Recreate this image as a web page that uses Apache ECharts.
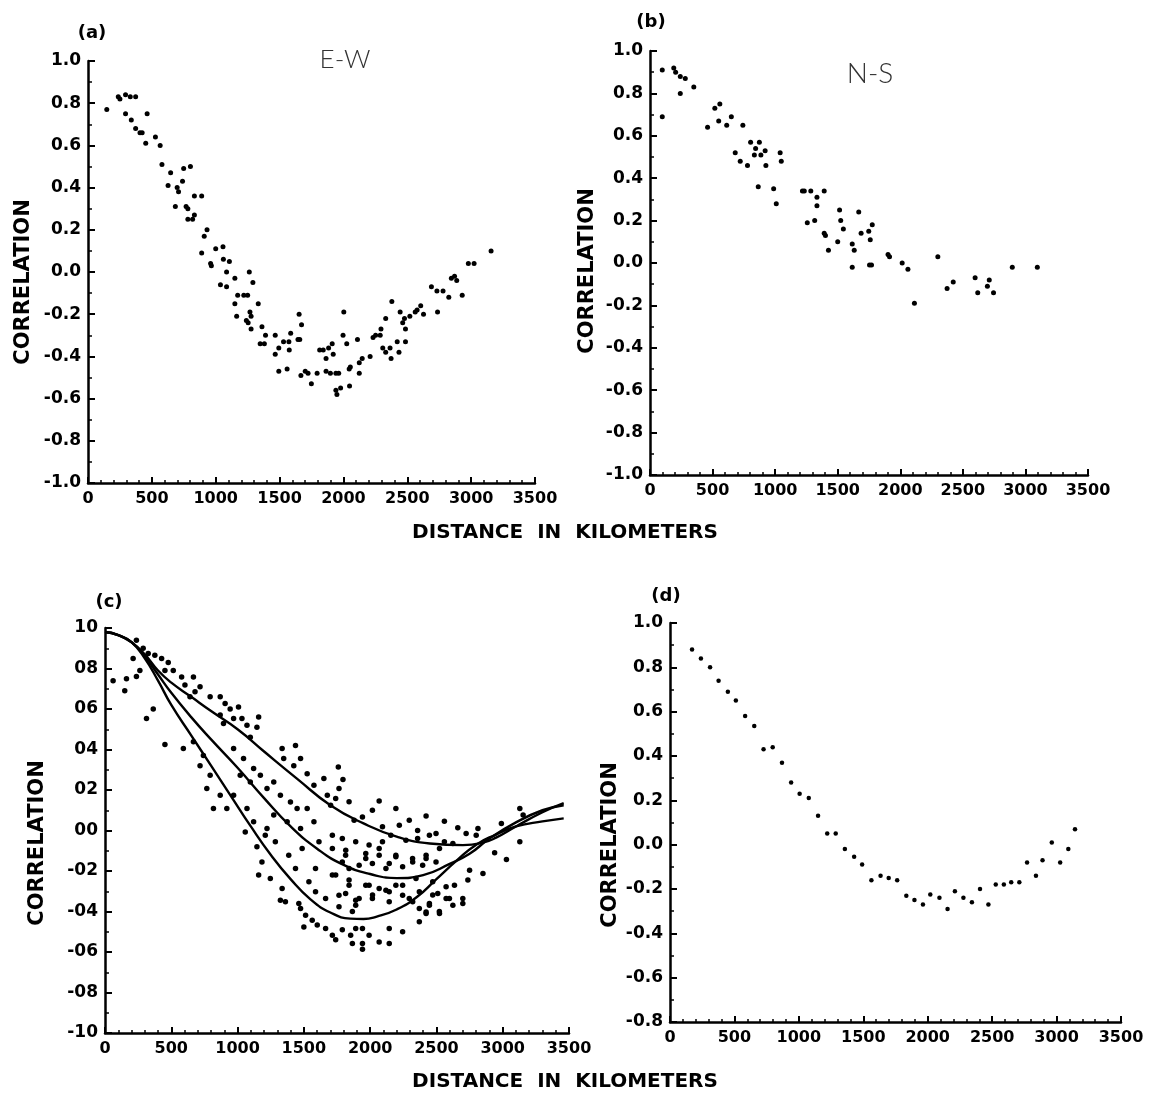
<!DOCTYPE html>
<html>
<head>
<meta charset="utf-8">
<script src="https://cdn.jsdelivr.net/npm/echarts@6/dist/echarts.min.js"></script>
<style>
html,body{margin:0;padding:0;background:#fff;}
#chart{width:1153px;height:1099px;}
</style>
</head>
<body>
<div id="chart"></div>
<script>
// ---------- tick labels ----------
const KM_TICKS = ['0','500','1000','1500','2000','2500','3000','3500'];
const R_TICKS = ['-1.0','-0.8','-0.6','-0.4','-0.2','0.0','0.2','0.4','0.6','0.8','1.0'];
const R_TICKS_C = ['-10','-08','-06','-04','-02','00','02','04','06','08','10'];
const R_TICKS_D = ['-0.8','-0.6','-0.4','-0.2','0.0','0.2','0.4','0.6','0.8','1.0'];

// ---------- panel (a) E-W ----------
const aKm = [147,237,250,294,331,373,294,339,373,407,424,463,452,528,565,579,627,647,698,709,684,740,749,768,782,802,782,819,833,833,890,910,932,890,960,966,1000,1057,1060,1107,1037,1085,1085,1150,1150,1164,1172,1220,1250,1263,1291,1268,1240,1254,1277,1277,1333,1362,1390,1348,1381,1466,1494,1466,1531,1573,1494,1559,1576,1587,1644,1658,1653,1672,1667,1701,1723,1749,1794,1814,1842,1884,1912,1864,1920,1864,1898,1941,1963,1941,1949,1978,2003,1997,2026,2048,2045,2054,2110,2124,2147,2124,2209,2232,2252,2288,2294,2331,2308,2331,2365,2373,2379,2421,2435,2444,2464,2486,2486,2478,2520,2562,2577,2605,2627,2689,2732,2780,2737,2825,2845,2870,2887,2930,2978,3023,3156];
const aR = [0.77,0.83,0.82,0.84,0.83,0.83,0.75,0.72,0.68,0.66,0.66,0.75,0.61,0.64,0.60,0.51,0.41,0.47,0.40,0.38,0.31,0.43,0.49,0.31,0.30,0.50,0.25,0.25,0.27,0.36,0.36,0.17,0.20,0.09,0.04,0.03,0.11,0.12,0.06,0.05,-0.06,-0.07,0.00,-0.03,-0.15,-0.21,-0.11,-0.11,-0.11,0.00,-0.05,-0.19,-0.23,-0.24,-0.21,-0.27,-0.15,-0.26,-0.30,-0.34,-0.34,-0.30,-0.36,-0.39,-0.33,-0.33,-0.47,-0.46,-0.37,-0.29,-0.32,-0.32,-0.20,-0.25,-0.49,-0.47,-0.48,-0.53,-0.48,-0.37,-0.37,-0.36,-0.34,-0.41,-0.39,-0.47,-0.48,-0.48,-0.48,-0.56,-0.58,-0.55,-0.19,-0.30,-0.34,-0.54,-0.46,-0.45,-0.32,-0.43,-0.41,-0.48,-0.40,-0.31,-0.30,-0.30,-0.27,-0.22,-0.36,-0.38,-0.36,-0.41,-0.14,-0.33,-0.38,-0.19,-0.24,-0.27,-0.33,-0.22,-0.21,-0.19,-0.18,-0.16,-0.20,-0.07,-0.09,-0.09,-0.19,-0.12,-0.03,-0.02,-0.04,-0.11,0.04,0.04,0.10];

// ---------- panel (b) N-S ----------
const bKm = [98,98,190,205,242,282,242,350,460,518,558,549,613,650,742,681,721,779,804,844,834,874,865,886,920,926,988,1009,1040,1049,1218,1233,1285,1334,1392,1334,1257,1316,1392,1402,1426,1500,1515,1524,1545,1616,1632,1668,1687,1616,1748,1760,1776,1754,1770,1902,1914,2015,2061,2113,2300,2374,2423,2598,2619,2696,2711,2745,2895,3095];
const bR = [0.91,0.69,0.92,0.90,0.88,0.87,0.80,0.83,0.64,0.73,0.75,0.67,0.65,0.69,0.65,0.52,0.48,0.46,0.57,0.54,0.51,0.57,0.36,0.51,0.53,0.46,0.35,0.28,0.52,0.48,0.34,0.34,0.34,0.31,0.34,0.27,0.19,0.20,0.14,0.13,0.06,0.10,0.25,0.20,0.16,0.09,0.06,0.24,0.14,-0.02,0.15,0.11,0.18,-0.01,-0.01,0.04,0.03,0.00,-0.03,-0.19,0.03,-0.12,-0.09,-0.07,-0.14,-0.11,-0.08,-0.14,-0.02,-0.02];

// ---------- panel (c) all directions: scatter ----------
const cKm = [237,288,326,376,427,477,452,515,578,603,667,717,679,641,212,263,162,149,61,364,313,452,237,793,869,906,944,1007,970,1033,869,894,1071,1096,1159,1146,1336,1437,1348,1424,1475,1525,1576,1651,1677,1702,591,667,742,717,793,869,919,768,818,970,1045,1121,1020,1096,1172,1222,1273,1323,1399,1449,1525,1576,1475,1374,1273,1222,1121,1071,970,
 1760,1795,1765,1740,1841,2068,2194,2422,2560,2295,2220,2093,2017,1942,1879,2661,2724,2800,2813,2939,3028,2851,2750,2737,2636,2699,2699,3129,3154,3129,2990,2358,2447,2497,2560,2358,2270,2156,2093,1992,1891,1790,1715,1816,1967,2068,2194,2320,2422,2497,2396,2245,2144,2017,1917,1790,1740,1841,1992,2119,2245,2371,2295,2144,2017,1891,1765,1866,2447,2522,2422,2573,
 1058,1146,1184,1159,1247,1323,1361,1336,1462,1475,1513,1563,1601,1500,1664,1715,1740,1790,1853,1891,1942,1866,1942,1942,1992,2068,2144,2144,2245,2371,2422,2447,2523,2598,2510,2371,2321,2245,2144,2018,1917,1815,1891,1765,1664,1588,1538,1437,1386,1285,1209,1487,1614,1715,1815,1967,2068,2194,2321,2422,2523,2624,1588,1715,1841,1967,2068,2194,2346,2472,2119,1841,2573,2624,2472];
const cR = [0.94,0.90,0.874,0.866,0.85,0.83,0.79,0.79,0.758,0.718,0.758,0.71,0.685,0.66,0.85,0.79,0.75,0.69,0.74,0.60,0.553,0.425,0.76,0.66,0.66,0.627,0.60,0.61,0.553,0.553,0.57,0.528,0.52,0.46,0.56,0.51,0.405,0.42,0.355,0.32,0.355,0.28,0.224,0.257,0.174,0.125,0.405,0.438,0.37,0.32,0.273,0.174,0.109,0.207,0.109,0.405,0.355,0.306,0.273,0.24,0.273,0.207,0.24,0.174,0.141,0.109,0.109,0.043,0.01,0.043,0.076,0.01,0.043,0.109,0.174,
 0.314,0.252,0.207,0.158,0.142,0.146,0.109,0.072,0.046,0.051,0.026,0.018,0.10,0.067,0.051,0.013,-0.015,-0.023,0.01,-0.11,-0.143,-0.212,-0.196,-0.245,-0.27,-0.336,-0.36,0.109,0.076,-0.056,0.035,0.0,-0.023,-0.015,-0.056,-0.04,-0.048,-0.023,-0.056,-0.072,-0.056,-0.04,-0.023,-0.097,-0.114,-0.122,-0.13,-0.138,-0.122,-0.155,-0.171,-0.179,-0.163,-0.163,-0.171,-0.155,-0.22,-0.245,-0.27,-0.295,-0.27,-0.303,-0.336,-0.352,-0.336,-0.344,-0.32,-0.40,-0.369,-0.40,-0.41,-0.336,
 -0.007,-0.08,-0.155,-0.22,-0.237,-0.344,-0.352,-0.286,-0.36,-0.385,-0.418,-0.443,-0.467,-0.476,-0.484,-0.517,-0.54,-0.49,-0.517,-0.484,-0.484,-0.558,-0.558,-0.586,-0.517,-0.55,-0.558,-0.484,-0.50,-0.451,-0.402,-0.36,-0.41,-0.336,-0.311,-0.385,-0.352,-0.32,-0.303,-0.319,-0.336,-0.311,-0.369,-0.377,-0.336,-0.303,-0.253,-0.188,-0.122,-0.056,-0.023,-0.089,-0.056,-0.089,-0.122,-0.138,-0.089,-0.122,-0.155,-0.138,-0.089,-0.064,-0.188,-0.22,-0.27,-0.27,-0.286,-0.27,-0.237,-0.253,-0.188,-0.188,-0.278,-0.369,-0.319];

// ---------- panel (c) fitted curves ----------
const cUpperKm = [0,100,200,300,400,500,650,800,1000,1200,1450,1700,1950,2200,2450,2700,2850,2950,3100,3300,3460];
const cUpperR  = [0.98,0.965,0.93,0.87,0.79,0.73,0.66,0.59,0.50,0.39,0.255,0.125,0.035,-0.03,-0.064,-0.072,-0.06,-0.035,0.02,0.09,0.135];
const cMiddleKm = [0,100,200,300,400,500,650,800,1000,1200,1400,1600,1800,2000,2200,2400,2600,2750,2900,3100,3300,3460];
const cMiddleR  = [0.98,0.965,0.93,0.86,0.77,0.68,0.56,0.45,0.31,0.16,0.02,-0.09,-0.17,-0.215,-0.235,-0.22,-0.165,-0.115,-0.04,0.04,0.10,0.125];
const cLowerKm = [0,100,200,300,400,500,650,800,950,1100,1250,1400,1550,1700,1850,1950,2050,2200,2350,2500,2650,2800,2950,3100,3300,3460];
const cLowerR  = [0.98,0.965,0.93,0.85,0.74,0.62,0.47,0.32,0.17,0.02,-0.12,-0.24,-0.34,-0.405,-0.435,-0.437,-0.425,-0.39,-0.33,-0.24,-0.15,-0.07,-0.02,0.02,0.045,0.06];

// ---------- panel (d) ----------
const dKm = [171,240,311,377,449,511,583,654,726,797,869,940,1006,1077,1149,1220,1286,1357,1429,1491,1563,1634,1697,1763,1834,1897,1963,2020,2091,2154,2211,2277,2343,2406,2471,2528,2591,2648,2711,2771,2840,2891,2963,3028,3091,3143];
const dR = [0.88,0.84,0.80,0.74,0.69,0.65,0.58,0.535,0.43,0.44,0.37,0.28,0.23,0.21,0.13,0.05,0.05,-0.02,-0.055,-0.09,-0.16,-0.14,-0.15,-0.16,-0.23,-0.25,-0.27,-0.225,-0.24,-0.29,-0.21,-0.24,-0.26,-0.20,-0.27,-0.18,-0.18,-0.17,-0.17,-0.08,-0.14,-0.07,0.01,-0.08,-0.02,0.07];

// ---------- helpers ----------
const zip = (xs, ys) => xs.map((x, i) => [x, ys[i]]);
const FONT = 'DejaVu Sans';
const INK = '#000';

function xAxisFor(gi) {
  return {
    gridIndex: gi, type: 'value', min: 0, max: 3500, interval: 500,
    axisLine: { show: true, onZero: false, lineStyle: { color: INK, width: 2.5 } },
    axisTick: { show: true, inside: true, length: 6, lineStyle: { color: INK, width: 2 } },
    minorTick: { show: true, splitNumber: 5, length: 3, lineStyle: { color: INK, width: 1.5 } },
    splitLine: { show: false },
    axisLabel: {
      color: INK, fontFamily: FONT, fontWeight: 'bold', fontSize: 16, margin: 8,
      formatter: v => KM_TICKS[Math.round(v / 500)]
    }
  };
}
function yAxisFor(gi, min, labels) {
  return {
    gridIndex: gi, type: 'value', min: min, max: 1, interval: 0.2,
    axisLine: { show: true, onZero: false, lineStyle: { color: INK, width: 2.5 } },
    axisTick: { show: true, inside: true, length: 7, lineStyle: { color: INK, width: 2 } },
    minorTick: { show: true, splitNumber: 2, length: 4, lineStyle: { color: INK, width: 1.5 } },
    splitLine: { show: false },
    axisLabel: {
      color: INK, fontFamily: FONT, fontWeight: 'bold', fontSize: 17, margin: 7,
      formatter: v => labels[Math.round((v - min) / 0.2)]
    }
  };
}
function dots(gi, data, size) {
  return {
    type: 'scatter', xAxisIndex: gi, yAxisIndex: gi, data: data,
    symbol: 'circle', symbolSize: size, itemStyle: { color: INK, opacity: 1 }, silent: true
  };
}
function curve(xs, ys) {
  return {
    type: 'line', xAxisIndex: 2, yAxisIndex: 2, data: zip(xs, ys),
    smooth: 0.5,
    showSymbol: false, lineStyle: { color: INK, width: 2.4 }, silent: true
  };
}
function txt(x, y, s, size, opts) {
  return {
    type: 'text', x: x, y: y,
    style: Object.assign({ text: s, fill: INK, font: 'bold ' + size + 'px "' + FONT + '"', align: 'center', verticalAlign: 'middle' }, opts || {})
  };
}
function vtxt(x, y, s, size) {
  const t = txt(x, y, s, size);
  t.rotation = Math.PI / 2;
  return t;
}

const chart = echarts.init(document.getElementById('chart'), null, { renderer: 'canvas' });
chart.setOption({
  animation: false,
  backgroundColor: '#ffffff',
  grid: [
    { left: 88, top: 61, width: 447, height: 422 },
    { left: 650, top: 51, width: 438, height: 424 },
    { left: 105, top: 628, width: 464, height: 405 },
    { left: 670, top: 623, width: 451, height: 399 }
  ],
  xAxis: [xAxisFor(0), xAxisFor(1), xAxisFor(2), xAxisFor(3)],
  yAxis: [yAxisFor(0, -1, R_TICKS), yAxisFor(1, -1, R_TICKS), yAxisFor(2, -1, R_TICKS_C), yAxisFor(3, -0.8, R_TICKS_D)],
  series: [
    dots(0, zip(aKm, aR), 5),
    dots(1, zip(bKm, bR), 5),
    dots(2, zip(cKm, cR), 5.5),
    curve(cUpperKm, cUpperR),
    curve(cMiddleKm, cMiddleR),
    curve(cLowerKm, cLowerR),
    dots(3, zip(dKm, dR), 4.5)
  ],
  graphic: [
    txt(92, 33, '(a)', 18),
    txt(651, 22, '(b)', 18),
    txt(109, 602, '(c)', 18),
    txt(666, 596, '(d)', 18),
    txt(345, 60, 'E-W', 26, { font: '300 26px "Lato"', fill: '#333' }),
    txt(870, 74, 'N-S', 28, { font: '300 28px "Lato"', fill: '#333' }),
    vtxt(24, 282, 'CORRELATION', 21),
    vtxt(588, 271, 'CORRELATION', 21),
    vtxt(38, 843, 'CORRELATION', 21),
    vtxt(611, 845, 'CORRELATION', 21),
    txt(565, 533, 'DISTANCE  IN  KILOMETERS', 20),
    txt(565, 1082, 'DISTANCE  IN  KILOMETERS', 20)
  ]
});
</script>
</body>
</html>
